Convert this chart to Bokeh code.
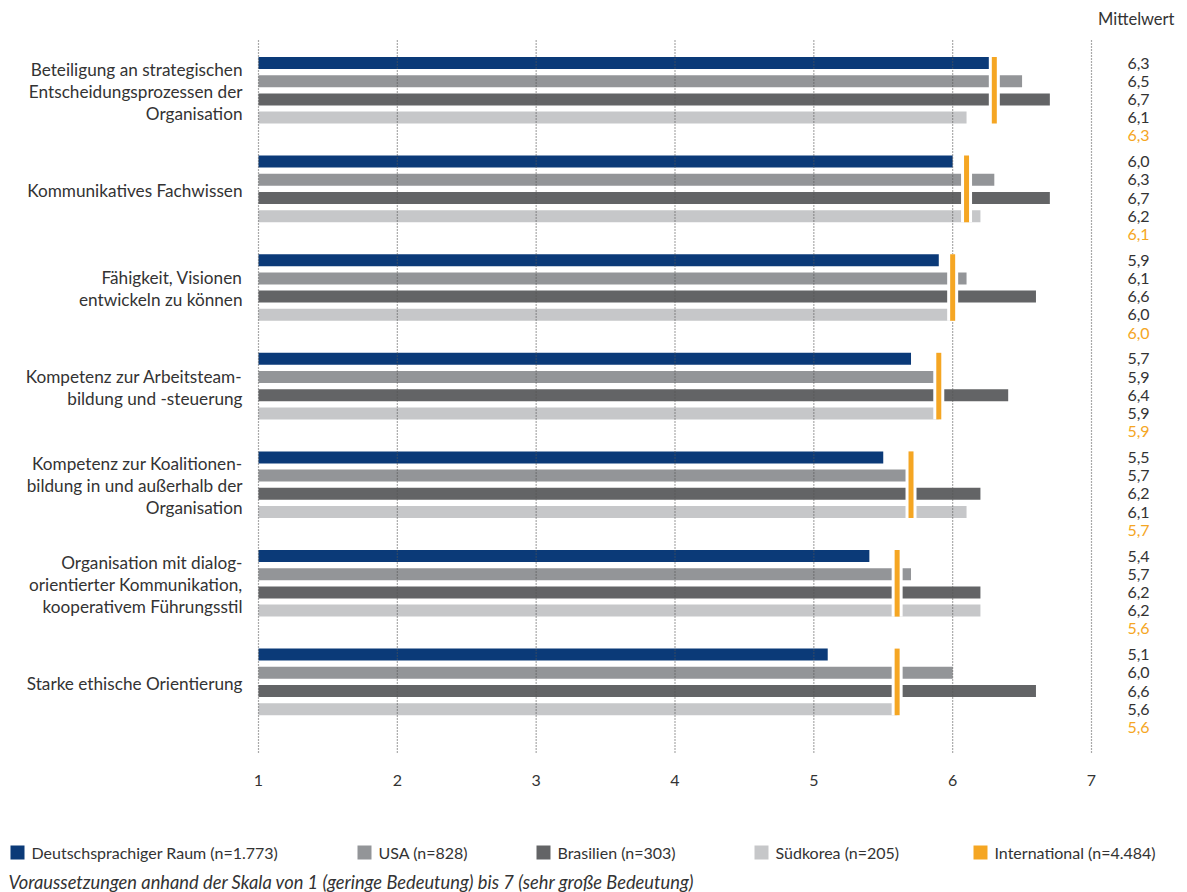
from bokeh.plotting import figure
from bokeh.models import Range1d
from bokeh.core.properties import value
from bokeh.embed import file_html
from bokeh.resources import INLINE

# ---------------- data ----------------
categories = [
    "Beteiligung an strategischen\nEntscheidungsprozessen der\nOrganisation",
    "Kommunikatives Fachwissen",
    "Fähigkeit, Visionen\nentwickeln zu können",
    "Kompetenz zur Arbeitsteam-\nbildung und -steuerung",
    "Kompetenz zur Koalitionen-\nbildung in und außerhalb der\nOrganisation",
    "Organisation mit dialog-\norientierter Kommunikation,\nkooperativem Führungsstil",
    "Starke ethische Orientierung",
]
series_names = ["Deutschsprachiger Raum (n=1.773)", "USA (n=828)",
                "Brasilien (n=303)", "Südkorea (n=205)"]
international_name = "International (n=4.484)"
dach = [6.3, 6.0, 5.9, 5.7, 5.5, 5.4, 5.1]
usa = [6.5, 6.3, 6.1, 5.9, 5.7, 5.7, 6.0]
brasilien = [6.7, 6.7, 6.6, 6.4, 6.2, 6.2, 6.6]
suedkorea = [6.1, 6.2, 6.0, 5.9, 6.1, 6.2, 5.6]
international = [6.3, 6.1, 6.0, 5.9, 5.7, 5.6, 5.6]
x_ticks = [1, 2, 3, 4, 5, 6, 7]
value_header = "Mittelwert"
footnote = "Voraussetzungen anhand der Skala von 1 (geringe Bedeutung) bis 7 (sehr große Bedeutung)"

# ---------------- style ----------------
series_colors = ["#0b3a78", "#939598", "#636466", "#c6c7c9"]
intl_color = "#f5a623"
text_color = "#333333"
FONT = value("Lato")

W, H = 1187, 892
K = 138.833          # px per scale unit
X1 = 258             # page px of value 1


def sx(px):
    return 1 + (px - X1) / K


p = figure(width=W, height=H, output_backend="svg", toolbar_location=None,
           x_range=Range1d(sx(0), sx(W)), y_range=Range1d(H, 0),
           min_border=0)
p.axis.visible = False
p.grid.visible = False
p.outline_line_color = None

series = [dach, usa, brasilien, suedkorea]
G0 = 62.5
GP = 98.6
BP = 18.2
BH = 12

# bars
for k, (vals, col) in enumerate(zip(series, series_colors)):
    ys = [G0 + g * GP + k * BP for g in range(len(vals))]
    p.hbar(y=ys, left=1, right=vals, height=BH, fill_color=col, line_color=None)

# grid lines
p.segment(x0=x_ticks, x1=x_ticks, y0=[40] * len(x_ticks), y1=[752] * len(x_ticks),
          line_color="#555555", line_width=1.2, line_dash="1 2")

# international markers
ytop = [G0 + g * GP - BH / 2 for g in range(len(international))]
ybot = [G0 + g * GP + 3 * BP + BH / 2 for g in range(len(international))]
p.segment(x0=international, x1=international, y0=ytop, y1=ybot,
          line_color="white", line_width=11)
p.segment(x0=international, x1=international, y0=ytop, y1=ybot,
          line_color=intl_color, line_width=5)

# category labels
p.text(x=[sx(242)] * len(categories), y=[G0 + g * GP + 28.5 for g in range(len(categories))],
       text=categories, text_align="right", text_baseline="middle",
       text_font=FONT, text_font_size="17.2px", text_color=text_color,
       text_line_height=1.05)

# value labels
vx, vy, vt, vc = [], [], [], []
for g in range(len(categories)):
    for k, vals in enumerate(series + [international]):
        vx.append(sx(1138))
        vy.append(G0 + g * GP + k * BP)
        vt.append(f"{vals[g]:.1f}".replace(".", ","))
        vc.append(intl_color if k == 4 else text_color)
p.text(x=vx, y=vy, text=vt, text_color=vc, text_align="center", text_baseline="middle",
       text_font=FONT, text_font_size="16px")
p.text(x=[sx(1174)], y=[18], text=[value_header], text_align="right", text_baseline="middle",
       text_font=FONT, text_font_size="16.5px", text_color=text_color)

# tick labels
p.text(x=x_ticks, y=[780] * len(x_ticks), text=[str(t) for t in x_ticks],
       text_align="center", text_baseline="middle",
       text_font=FONT, text_font_size="16px", text_color=text_color)

# legend
leg_px = [10, 357, 536, 754, 973]
leg_names = series_names + [international_name]
leg_cols = series_colors + [intl_color]
LY = 852
p.quad(left=[sx(x) for x in leg_px], right=[sx(x + 14) for x in leg_px],
       top=[LY - 7] * 5, bottom=[LY + 7] * 5, fill_color=leg_cols, line_color=None)
p.text(x=[sx(x + 21) for x in leg_px], y=[LY] * 5, text=leg_names,
       text_align="left", text_baseline="middle",
       text_font=FONT, text_font_size="16px", text_color=text_color)

# footnote
p.text(x=[sx(8)], y=[881], text=[footnote], text_align="left", text_baseline="middle",
       text_font=FONT, text_font_size="18.3px", text_font_style="italic", text_color=text_color)

open("out.html", "w").write(file_html(p, INLINE))
